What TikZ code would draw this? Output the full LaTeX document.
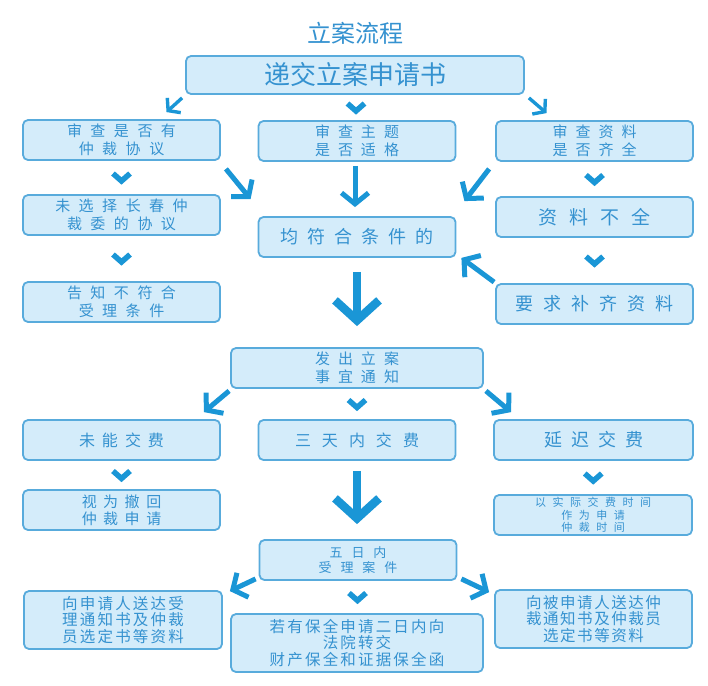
\documentclass[tikz,border=0pt]{standalone}
\usepackage{fontspec}
\newfontfamily\cjk{Noto Sans CJK SC}
\usetikzlibrary{arrows.meta,calc}

\definecolor{boxfill}{HTML}{D4ECFA}
\definecolor{boxline}{HTML}{58ABDC}
\definecolor{txtblue}{HTML}{3592D0}
\definecolor{arrowblue}{HTML}{1A96D6}

% small V between two stacked boxes
\newcommand{\chevron}[2]{%
  \draw[chev] ($(#1.south)!0.5!(#2.north)$) ++(-8.5,-4) -- ++(8.5,7.5) -- ++(8.5,-7.5);}

\begin{document}
\begin{tikzpicture}[
  x=1pt, y=-1pt,
  box/.style       = {draw=boxline, fill=boxfill, line width=1.8pt, rounded corners=5pt,
                      text=txtblue, align=center, inner sep=0pt,
                      minimum width=197pt, minimum height=40pt},
  txt/.style n args= {3}{font={\cjk\fontsize{#1}{#2}\selectfont\spaceskip=#3pt\relax}},
  tight/.style n args={3}{font={\fontsize{#1}{#2}\cjk\addfontfeatures{LetterSpace=#3}}},
  chev/.style      = {draw=arrowblue, line width=5.5pt, line join=miter, line cap=butt},
  thin arrow/.style= {draw=arrowblue, line width=3.4pt,
                      -{Straight Barb[length=8pt, width=20pt]}},
  mid arrow/.style = {draw=arrowblue, line width=5pt,
                      -{Straight Barb[length=11pt, width=27pt]}},
  big arrow/.style = {draw=arrowblue, line width=8.5pt,
                      -{Straight Barb[length=20pt, width=44pt]}},
]

\useasboundingbox (0,0) rectangle (708,685);

% ── Columns ────────────────────────────────────────────────────────────────
\def\colL{121.5}
\def\colM{357}
\def\colR{594.5}

% ── Title and first step ───────────────────────────────────────────────────
\node[txt={24}{28}{0}, text=txtblue] (title) at (355,33) {立案流程};
\node[box, txt={26}{30}{0}, minimum width=338pt, minimum height=38pt]
  (submit) at (355,75) {递交立案申请书};

% ── Three checks ───────────────────────────────────────────────────────────
\node[box, txt={15}{18}{8.5}] (chkagree) at (\colL,140) {审 查 是 否 有\\仲 裁 协 议};
\node[box, txt={15}{18}{8}]   (chktopic) at (\colM,141) {审 查 主 题\\是 否 适 格};
\node[box, txt={15}{18}{8}]   (chkdocs)  at (\colR,141) {审 查 资 料\\是 否 齐 全};

\node[box, txt={15}{18}{8.5}] (nochoice)   at (\colL,215) {未 选 择 长 春 仲\\裁 委 的 协 议};
\node[box, txt={18}{20}{9}]   (allok)      at (\colM,237) {均 符 合 条 件 的};
\node[box, txt={19}{20}{12}]  (incomplete) at (\colR,217) {资 料 不 全};

\node[box, txt={15}{18}{8.5}] (reject)     at (\colL,302) {告 知 不 符 合\\受 理 条 件};
\node[box, txt={18}{20}{10}]  (supplement) at (\colR,304) {要 求 补 齐 资 料};

% ── Notice and fees ────────────────────────────────────────────────────────
\node[box, txt={15}{18}{8}, minimum width=252pt] (notice) at (\colM,368) {发 出 立 案\\事 宜 通 知};

\node[box, txt={16}{18}{7}]  (nopay)   at (\colL,440)  {未 能 交 费};
\node[box, txt={16}{18}{11}] (pay3)    at (\colM,440)  {三 天 内 交 费};
\node[box, txt={18}{20}{9}, minimum width=199pt] (latepay) at (593.5,440) {延 迟 交 费};

\node[box, txt={15}{17}{6.5}] (withdraw)   at (\colL,510) {视 为 撤 回\\仲 裁 申 请};
\node[box, txt={11}{12.5}{6.5}, minimum width=198pt] (actualtime) at (593,515)
  {以 实 际 交 费 时 间\\作 为 申 请\\仲 裁 时 间};

% ── Acceptance ─────────────────────────────────────────────────────────────
\node[box, txt={13}{15}{9}] (accept5) at (358,560) {五 日 内\\受 理 案 件};

\node[box, tight={15.5}{16.5}{14}, minimum height=58pt, minimum width=198pt] (sendapp) at (123,620)
  {向申请人送达受\\理通知书及仲裁\\员选定书等资料};
\node[box, tight={15.5}{16.5}{14}, minimum height=58pt, minimum width=252pt] (court) at (357,643)
  {若有保全申请二日内向\\法院转交\\财产保全和证据保全函};
\node[box, tight={15.5}{16.5}{10}, minimum height=58pt] (sendresp) at (593.5,619)
  {向被申请人送达仲\\裁通知书及仲裁员\\选定书等资料};

% ── Arrows ─────────────────────────────────────────────────────────────────
\draw[thin arrow] ([shift={(-3,3)}]submit.south west) -- ([shift={(45,-7)}]chkagree.north);
\chevron{submit}{chktopic}
\draw[thin arrow] ([shift={(4,3)}]submit.south east) -- ([shift={(-48,-7)}]chkdocs.north);

\chevron{chkagree}{nochoice}
\chevron{nochoice}{reject}
\chevron{chkdocs}{incomplete}
\chevron{incomplete}{supplement}

\draw[mid arrow] ([shift={(5,8)}]chkagree.south east) -- ([shift={(-7,-17)}]allok.north west);
\draw[mid arrow] ([shift={(-2,4)}]chktopic.south) -- ([shift={(-2,-9)}]allok.north);
\draw[mid arrow] ([shift={(-6,7)}]chkdocs.south west) -- ([shift={(8,-15)}]allok.north east);
\draw[mid arrow] ([shift={(-1,-1)}]supplement.north west) -- ([shift={(5,0)}]allok.south east);

\draw[big arrow] ([shift={(0,14)}]allok.south) -- ([shift={(0,-21)}]notice.north);

\draw[mid arrow] ([shift={(-1,2)}]notice.south west) -- ([shift={(-17,-7)}]nopay.north east);
\chevron{notice}{pay3}
\draw[mid arrow] ([shift={(2,2)}]notice.south east) -- ([shift={(18,-7)}]latepay.north west);

\chevron{nopay}{withdraw}
\chevron{latepay}{actualtime}

\draw[big arrow] ([shift={(0,10)}]pay3.south) -- ([shift={(-1,-15)}]accept5.north);

\draw[mid arrow] ([shift={(-3,-2)}]accept5.south west) -- ([shift={(7,1)}]sendapp.north east);
\chevron{accept5}{court}
\draw[mid arrow] ([shift={(4,-2)}]accept5.south east) -- ([shift={(-5,3)}]sendresp.north west);

\end{tikzpicture}
\end{document}
